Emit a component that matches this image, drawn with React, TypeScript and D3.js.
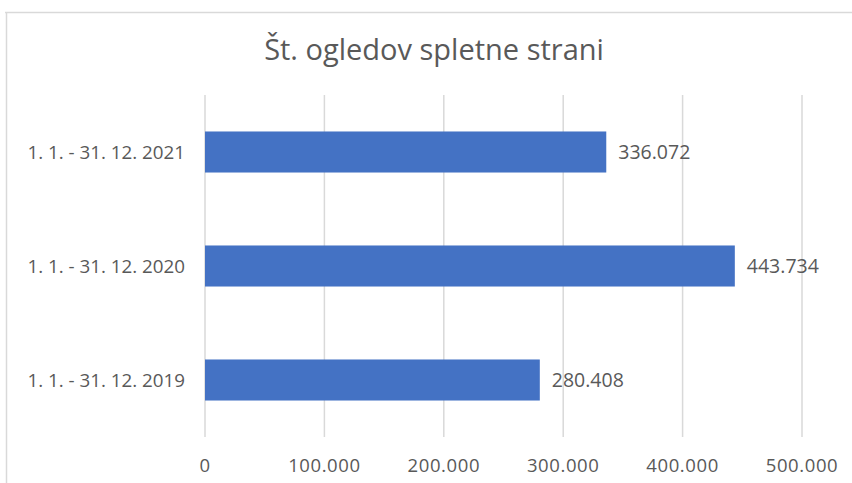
import React from "react";
import * as d3 from "d3";

const categories = ["1. 1. - 31. 12. 2021", "1. 1. - 31. 12. 2020", "1. 1. - 31. 12. 2019"];
const values = [336072, 443734, 280408];
const ticks = [0, 100000, 200000, 300000, 400000, 500000];
const title = "Št. ogledov spletne strani";

const W = 852;
const H = 483;

const fmt = (v: number) => {
  const s = Math.round(v).toString();
  return s.replace(/\B(?=(\d{3})+(?!\d))/g, ".");
};

export default function App() {
  const x = d3.scaleLinear().domain([0, 500000]).range([205, 802]);
  const y = d3.scaleBand<string>().domain(categories).range([95, 437]).paddingInner(0.64).paddingOuter(0.32);
  const textColor = "#595959";
  const font = "'Open Sans', sans-serif";
  return (
    <svg width={W} height={H} style={{ position: "absolute", left: 0, top: 0, background: "#fff" }}>
      <rect x={0} y={0} width={W} height={H} fill="#fff" />
      <line x1={5} x2={W} y1={12.5} y2={12.5} stroke="#D9D9D9" strokeWidth={1.5} />
      <line x1={6.5} x2={6.5} y1={12} y2={H} stroke="#D9D9D9" strokeWidth={1.5} />
      <text x={434} y={60} textAnchor="middle" fontFamily={font} fontSize={29} fill={textColor}>
        {title}
      </text>
      {ticks.map((t) => (
        <line key={"g" + t} x1={x(t)} x2={x(t)} y1={95} y2={437} stroke="#D9D9D9" strokeWidth={1.5} />
      ))}
      {ticks.map((t) => (
        <text key={"t" + t} x={x(t)} y={472} textAnchor="middle" fontFamily={font} fontSize={18.5} letterSpacing={0.6} fill={textColor}>
          {fmt(t)}
        </text>
      ))}
      {categories.map((c, i) => (
        <g key={c}>
          <rect x={x(0)} y={y(c)!} width={x(values[i]) - x(0)} height={y.bandwidth()} fill="#4472C4" />
          <text
            x={185}
            y={y(c)! + y.bandwidth() / 2}
            dy="0.36em"
            textAnchor="end"
            fontFamily={font}
            fontSize={18.8}
            fill={textColor}
          >
            {c}
          </text>
          <text
            x={x(values[i]) + 12}
            y={y(c)! + y.bandwidth() / 2}
            dy="0.36em"
            fontFamily={font}
            fontSize={19.5}
            fill={textColor}
          >
            {fmt(values[i])}
          </text>
        </g>
      ))}
    </svg>
  );
}
